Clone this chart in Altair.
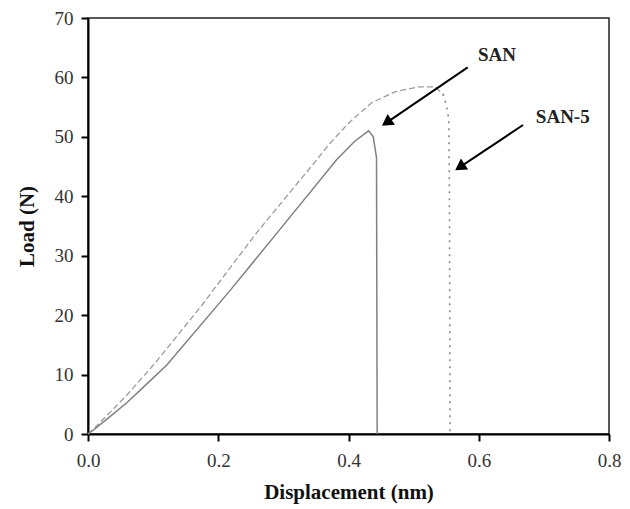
import altair as alt
import pandas as pd

# SAN (solid line)
san_x = [0.0, 0.01, 0.03, 0.06, 0.09, 0.121, 0.217, 0.296, 0.382, 0.41, 0.431, 0.438, 0.443, 0.444]
san_y = [0.0, 0.8, 2.6, 5.3, 8.4, 11.6, 24.0, 34.6, 46.2, 49.3, 51.0, 50.0, 46.5, 0.0]

# SAN-5 rising part (dashed)
san5_x = [0.0, 0.01, 0.03, 0.06, 0.102, 0.173, 0.217, 0.26, 0.293, 0.351, 0.369, 0.40, 0.435, 0.472, 0.507, 0.533, 0.545]
san5_y = [0.0, 1.0, 3.2, 6.6, 11.8, 21.4, 27.8, 34.0, 38.4, 46.1, 48.6, 52.3, 55.7, 57.6, 58.4, 58.4, 57.2]

# SAN-5 failure drop (dotted)
san5_drop_x = [0.545, 0.550, 0.554, 0.555, 0.556]
san5_drop_y = [57.2, 55.5, 53.0, 40.0, 0.0]

# annotations
label_text = ["SAN", "SAN-5"]
label_x = [0.628, 0.729]
label_y = [63.8, 53.4]
arrow_x0 = [0.583, 0.668]
arrow_y0 = [61.7, 52.0]
arrow_x1 = [0.4585, 0.571]
arrow_y1 = [52.4, 44.9]
arrow_angle = [235.5, 236.0]

x_ticks = [0.0, 0.2, 0.4, 0.6, 0.8]
y_ticks = [0, 10, 20, 30, 40, 50, 60, 70]

san = pd.DataFrame({"x": san_x, "y": san_y, "i": range(len(san_x))})
san5 = pd.DataFrame({"x": san5_x, "y": san5_y, "i": range(len(san5_x))})
san5d = pd.DataFrame({"x": san5_drop_x, "y": san5_drop_y, "i": range(len(san5_drop_x))})
labels = pd.DataFrame({"t": label_text, "x": label_x, "y": label_y})
arrows = pd.DataFrame({"x0": arrow_x0, "y0": arrow_y0, "x1": arrow_x1, "y1": arrow_y1, "a": arrow_angle})

xs = alt.Scale(domain=[0, 0.8], nice=False, zero=False)
ys = alt.Scale(domain=[0, 70], nice=False, zero=False)

X = alt.X("x:Q", scale=xs, axis=alt.Axis(values=x_ticks, format=".1f", title="Displacement (nm)"))
Y = alt.Y("y:Q", scale=ys, axis=alt.Axis(values=y_ticks, title="Load (N)"))

l_san = alt.Chart(san).mark_line(color="#808080", strokeWidth=1.5).encode(x=X, y=Y, order="i:Q")
l_san5 = alt.Chart(san5).mark_line(color="#9a9a9a", strokeWidth=1.3, strokeDash=[6, 3]).encode(x=X, y=Y, order="i:Q")
l_san5d = alt.Chart(san5d).mark_line(color="#8a8a8a", strokeWidth=1.6, strokeDash=[2, 5]).encode(x=X, y=Y, order="i:Q")

rules = alt.Chart(arrows).mark_rule(color="black", strokeWidth=2).encode(
    x=alt.X("x0:Q", scale=xs), y=alt.Y("y0:Q", scale=ys), x2="x1:Q", y2="y1:Q"
)
heads = alt.Chart(arrows).mark_point(shape="triangle-up", filled=True, color="black", opacity=1, size=170).encode(
    x=alt.X("x1:Q", scale=xs), y=alt.Y("y1:Q", scale=ys), angle=alt.Angle("a:Q", scale=None)
)
text = alt.Chart(labels).mark_text(font="Liberation Serif", fontSize=19, fontWeight="bold", color="#222").encode(
    x=alt.X("x:Q", scale=xs), y=alt.Y("y:Q", scale=ys), text="t:N"
)

chart = alt.layer(l_san5, l_san, l_san5d, rules, heads, text).properties(
    width=521, height=416,
    background="white",
    autosize=alt.AutoSizeParams(type="none"),
    padding={"left": 80, "top": 10, "right": 13, "bottom": 74},
).configure_view(
    stroke="#222", strokeWidth=1.5
).configure_axis(
    grid=False,
    domainColor="black", domainWidth=2,
    tickColor="black", tickWidth=2, tickSize=7,
    labelFont="Liberation Serif", labelFontSize=19, labelColor="#333",
    labelFlush=False,
    titleFont="Liberation Serif", titleFontSize=21, titleFontWeight="bold", titleColor="#111",
).configure_axisX(
    labelPadding=10, titlePadding=11
).configure_axisY(
    labelPadding=8, titlePadding=17
)

chart.save("out.html", embed_options={"renderer": "svg", "actions": False})
